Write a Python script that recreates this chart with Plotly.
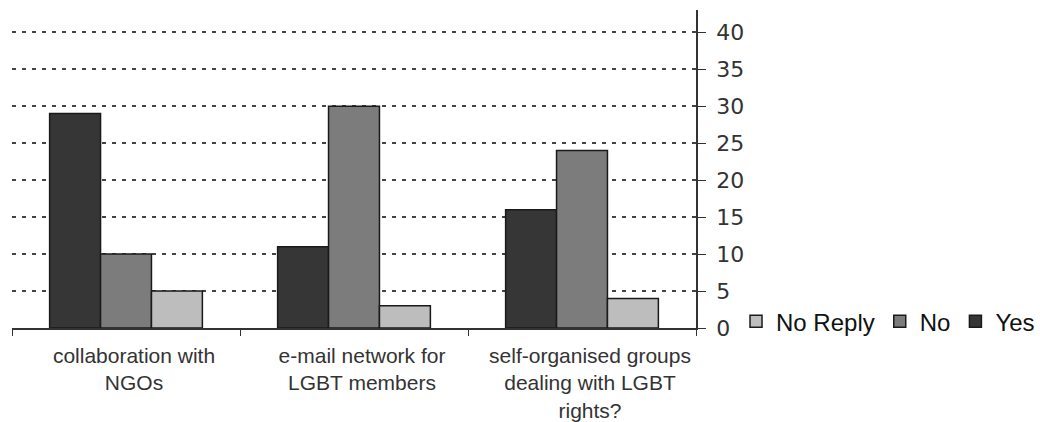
import plotly.graph_objects as go

categories = [
    "collaboration with<br>NGOs",
    "e-mail network for<br>LGBT members",
    "self-organised groups<br>dealing with LGBT<br>rights?",
]
yes_values = [29, 11, 16]
no_values = [10, 30, 24]
no_reply_values = [5, 3, 4]
y_ticks = [0, 5, 10, 15, 20, 25, 30, 35, 40]

series = [
    ("Yes", yes_values, "#363636"),
    ("No", no_values, "#7c7c7c"),
    ("No Reply", no_reply_values, "#bdbdbd"),
]

fig = go.Figure()
for name, values, color in series:
    fig.add_trace(go.Bar(
        x=categories, y=values, name=name,
        marker=dict(color=color, line=dict(color="#1a1a1a", width=1.5)),
    ))

fig.update_layout(
    width=1040, height=422, autosize=False,
    margin=dict(l=12, r=344, t=10, b=94, autoexpand=False),
    paper_bgcolor="white", plot_bgcolor="white",
    font=dict(family="Liberation Sans, Arial, sans-serif", color="#222222"),
    barmode="group", bargap=0.33, bargroupgap=0,
    showlegend=True,
    legend=dict(
        orientation="h", traceorder="reversed",
        x=1.0585, xanchor="left", y=0.02, yanchor="middle",
        font=dict(size=24, family="Liberation Sans, Arial, sans-serif", color="#111111"),
        itemwidth=30, bgcolor="rgba(0,0,0,0)",
    ),
)
fig.update_xaxes(
    showline=True, linecolor="#333333", linewidth=1.5,
    ticks="outside", tickson="boundaries", ticklen=6, tickcolor="#333333",
    tickfont=dict(size=21, color="#333333"), tickangle=0, automargin=False,
    ticklabelstandoff=8, ticklabelshift=8,
    showgrid=False,
)
fig.update_yaxes(
    side="right", range=[0, 43], tickvals=y_ticks,
    showline=True, linecolor="#333333", linewidth=1.5,
    ticks="outside", ticklen=8, tickcolor="#333333",
    tickfont=dict(size=22, family="DejaVu Sans, sans-serif", color="#333333"),
    ticklabelstandoff=6,
    showgrid=True, gridcolor="#444444", griddash="4px,6px", gridwidth=1.5,
    zeroline=False, automargin=False,
)

fix_page = (
    "document.body.style.margin='0';"
    "var gd=document.getElementById('{plot_id}');"
    "Plotly.relayout(gd,{width:1040,height:422});"
)
fig.write_html(
    "out.html",
    config={"responsive": False, "displayModeBar": False},
    post_script=fix_page,
)
